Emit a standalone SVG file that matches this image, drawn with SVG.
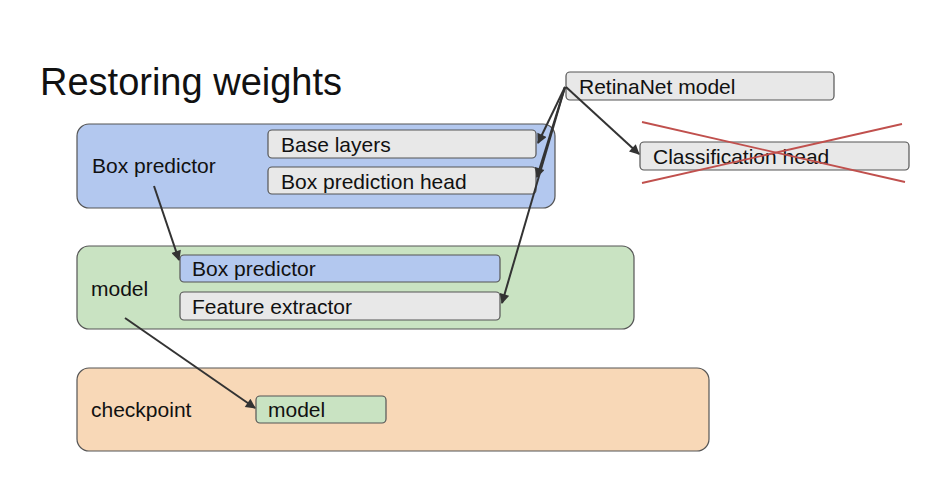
<svg xmlns="http://www.w3.org/2000/svg" width="948" height="491" viewBox="0 0 948 491">
<style>
text{font-family:"Liberation Sans",Arial,sans-serif;fill:#111}
.lbl{font-size:21px}
.outer{stroke:#555;stroke-width:1.2}
.inner{stroke:#555;stroke-width:1.2}
.gray{fill:#e8e8e8}
.blue{fill:#b3c8ef}
.green{fill:#c9e3c2}
.orange{fill:#f8d8b7}
.conn line{stroke:#333;stroke-width:2}
.cross line{stroke:#c0504d;stroke-width:1.8}
</style>
<defs>
<marker id="ah" viewBox="0 0 10 10" refX="9" refY="5" markerWidth="11" markerHeight="10" orient="auto" markerUnits="userSpaceOnUse">
<path d="M0,0 L10,5 L0,10 z" fill="#333"/>
</marker>
</defs>
<rect width="948" height="491" fill="#fff"/>
<text x="40" y="95" font-size="38">Restoring weights</text>

<g id="box-predictor-group">
<rect class="outer blue" x="77" y="124" width="478" height="84" rx="12"/>
<text class="lbl" x="92" y="173">Box predictor</text>
</g>
<g id="base-layers">
<rect class="inner gray" x="268" y="130" width="268" height="28" rx="4"/>
<text class="lbl" x="281" y="152">Base layers</text>
</g>
<g id="box-prediction-head">
<rect class="inner gray" x="268" y="167" width="268" height="27" rx="4"/>
<text class="lbl" x="281" y="189">Box prediction head</text>
</g>

<g id="model-group">
<rect class="outer green" x="77" y="246" width="557" height="83" rx="12"/>
<text class="lbl" x="91" y="296">model</text>
</g>
<g id="model-box-predictor">
<rect class="inner blue" x="180" y="255" width="320" height="27" rx="4"/>
<text class="lbl" x="192" y="276">Box predictor</text>
</g>
<g id="feature-extractor">
<rect class="inner gray" x="180" y="292" width="320" height="28" rx="4"/>
<text class="lbl" x="192" y="314">Feature extractor</text>
</g>

<g id="checkpoint-group">
<rect class="outer orange" x="77" y="368" width="632" height="83" rx="12"/>
<text class="lbl" x="91" y="417">checkpoint</text>
</g>
<g id="checkpoint-model">
<rect class="inner green" x="256" y="396" width="130" height="27" rx="4"/>
<text class="lbl" x="268" y="417">model</text>
</g>

<g id="retinanet-model">
<rect class="inner gray" x="566" y="72" width="268" height="28" rx="4"/>
<text class="lbl" x="579" y="94">RetinaNet model</text>
</g>
<g id="classification-head">
<rect class="inner gray" x="640" y="142" width="269" height="28" rx="4"/>
<text class="lbl" x="653" y="164">Classification head</text>
</g>
<g id="cross" class="cross">
<line x1="642" y1="122" x2="905" y2="182"/>
<line x1="642" y1="183" x2="902" y2="124"/>
</g>

<g id="connectors" class="conn">
<line x1="565" y1="87" x2="538" y2="143" marker-end="url(#ah)"/>
<line x1="565" y1="87" x2="537" y2="177" marker-end="url(#ah)"/>
<line x1="565" y1="87" x2="502" y2="303" marker-end="url(#ah)"/>
<line x1="566" y1="87" x2="639" y2="154" marker-end="url(#ah)"/>
<line x1="154" y1="186" x2="179" y2="260" marker-end="url(#ah)"/>
<line x1="125" y1="318" x2="255" y2="408" marker-end="url(#ah)"/>
</g>
</svg>
